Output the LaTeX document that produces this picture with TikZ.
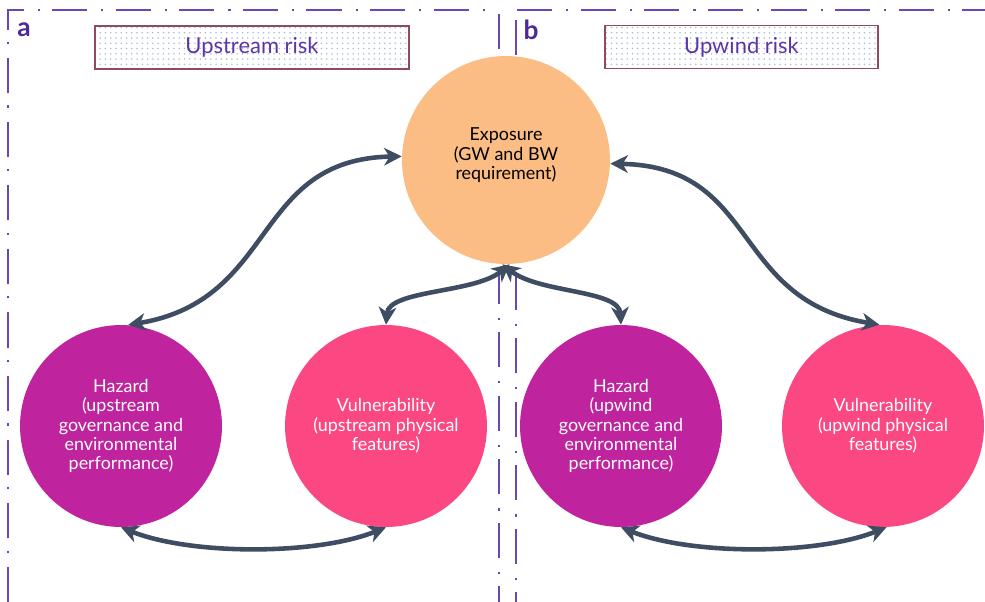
\documentclass[tikz,border=0pt]{standalone}
\usepackage{fontspec}
\setmainfont{Lato}
\usetikzlibrary{arrows.meta,patterns}
\definecolor{framepurple}{HTML}{6C46B4}
\definecolor{tagpurple}{HTML}{4E2A96}
\definecolor{titlepurple}{HTML}{5B35A8}
\definecolor{boxred}{HTML}{8E4B5C}
\definecolor{dotblue}{HTML}{A9BCE0}
\definecolor{expofill}{HTML}{FBBD84}
\definecolor{hazfill}{HTML}{C0239E}
\definecolor{vulfill}{HTML}{FB4782}
\definecolor{linkgrey}{HTML}{3F4D63}
\begin{document}
\begin{tikzpicture}[x=0.02cm,y=-0.02cm,
  panel/.style={draw=framepurple,line width=0.8pt,dash pattern=on 20pt off 8pt on 1.2pt off 7pt},
  tag/.style={text=tagpurple,font=\fontsize{15}{15}\selectfont\bfseries},
  riskbox/.style={draw=boxred,line width=0.7pt,pattern=dots,pattern color=dotblue,minimum height=0.86cm,text=titlepurple,font=\fontsize{12.5}{14}\selectfont},
  factor/.style={circle,minimum size=4.04cm,align=center,inner sep=0pt,font=\fontsize{10.2}{11}\selectfont},
  link/.style={draw=linkgrey,line width=2.6pt,{Stealth[length=10pt,width=10pt,inset=3pt]}-{Stealth[length=10pt,width=10pt,inset=3pt]}}]
  \useasboundingbox (0,0) rectangle (985,602);
  \draw[panel] (8,602) -- (8,10) -- (490,10);
  \draw[panel] (499,14) -- (499,602);
  \draw[panel] (516,20) -- (516,602);
  \draw[panel] (517,10) -- (985,10);
  \node[tag] (tagA) at (24,30) {a};
  \node[tag] (tagB) at (531,30) {b};
  \node[riskbox,minimum width=6.28cm] (upstream) at (252,47.5) {Upstream risk};
  \node[riskbox,minimum width=5.46cm] (upwind) at (741.5,47) {Upwind risk};
  \node[factor,fill=expofill,minimum size=4.16cm] (expo) at (506,160) {Exposure\\(GW and BW\\requirement)\\[-4pt]};
  \node[factor,fill=hazfill,text=white] (hazA) at (121,426) {Hazard\\(upstream\\governance and\\environmental\\performance)};
  \node[factor,fill=vulfill,text=white] (vulA) at (386,426) {Vulnerability\\(upstream physical\\features)};
  \node[factor,fill=hazfill,text=white] (hazB) at (621,426) {Hazard\\(upwind\\governance and\\environmental\\performance)};
  \node[factor,fill=vulfill,text=white] (vulB) at (883,426) {Vulnerability\\(upwind physical\\features)};
  \draw[link] (hazA.86) .. controls +(150,-25) and +(-150,3) .. (expo.178);
  \draw[link] (expo.358) .. controls +(150,3) and +(-150,-25) .. (vulB.92);
  \draw[link] (expo.272) .. controls +(-35,29) and +(3,-35) .. (vulA.90);
  \draw[link] (expo.268) .. controls +(37,29) and +(-2,-35) .. (hazB.90);
  \draw[link] (hazA.270) .. controls +(70,28) and +(-70,28) .. (vulA.270);
  \draw[link] (hazB.270) .. controls +(70,28) and +(-70,28) .. (vulB.272);
\end{tikzpicture}
\end{document}
